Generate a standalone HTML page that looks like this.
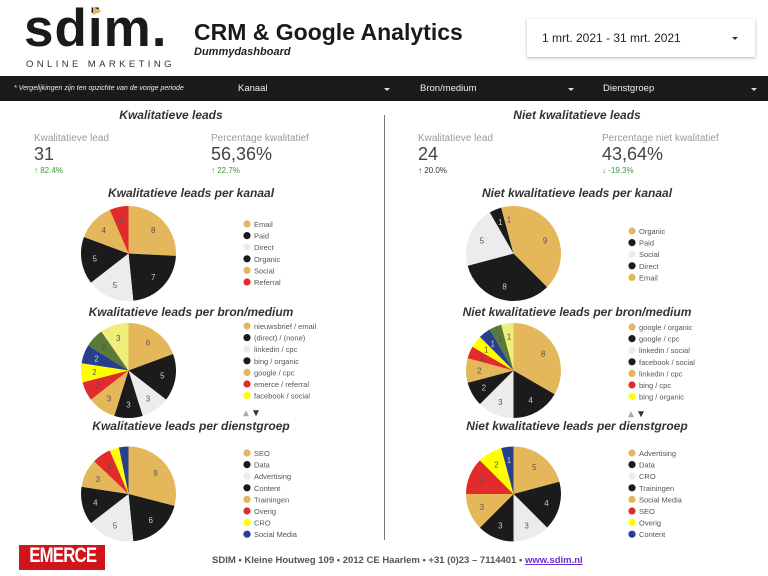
<!DOCTYPE html>
<html><head><meta charset="utf-8"><style>
body{margin:0;width:768px;height:576px;background:#fff;overflow:hidden;font-family:"Liberation Sans",sans-serif;position:relative}
.a{position:absolute;white-space:nowrap}
</style></head><body>
<div class="a" style="left:24px;top:-2px;font-size:53px;font-weight:bold;letter-spacing:1px;color:#1a1a1a">sdim.</div>
<div class="a" style="left:93px;top:7px;width:0;height:0;border-left:9px solid #e5b75b;border-top:4px solid transparent;border-bottom:4px solid transparent"></div>
<div class="a" style="left:26px;top:59px;font-size:9.5px;letter-spacing:3.4px;color:#333">ONLINE MARKETING</div>
<div class="a" style="left:194px;top:19px;font-size:23px;font-weight:bold;color:#1a1a1a">CRM &amp; Google Analytics</div>
<div class="a" style="left:194px;top:46px;font-size:11px;font-weight:bold;font-style:italic;color:#222">Dummydashboard</div>
<div class="a" style="left:527px;top:19px;width:228px;height:38px;box-shadow:0 1px 3px rgba(0,0,0,.3);background:#fff"></div>
<div class="a" style="left:542px;top:31px;font-size:12px;color:#222">1 mrt. 2021 - 31 mrt. 2021</div>
<div class="a" style="left:732px;top:37px;border-left:3px solid transparent;border-right:3px solid transparent;border-top:3px solid #333"></div>
<div class="a" style="left:0;top:76px;width:768px;height:25px;background:#1b1b1b"></div>
<div class="a" style="left:14px;top:85px;font-size:7px;font-style:italic;color:#eee">* Vergelijkingen zijn ten opzichte van de vorige periode</div>
<div class="a" style="left:238px;top:83px;font-size:9.5px;color:#eee">Kanaal</div>
<div class="a" style="left:420px;top:83px;font-size:9.5px;color:#eee">Bron/medium</div>
<div class="a" style="left:603px;top:83px;font-size:9.5px;color:#eee">Dienstgroep</div>
<div class="a" style="left:384px;top:88px;border-left:3px solid transparent;border-right:3px solid transparent;border-top:3px solid #ddd"></div>
<div class="a" style="left:568px;top:88px;border-left:3px solid transparent;border-right:3px solid transparent;border-top:3px solid #ddd"></div>
<div class="a" style="left:751px;top:88px;border-left:3px solid transparent;border-right:3px solid transparent;border-top:3px solid #ddd"></div>
<div class="a" style="left:384px;top:115px;width:1px;height:425px;background:#777"></div>
<svg id="s" class="a" style="left:0;top:0" width="768" height="576"></svg>
<div class="a" style="left:19px;top:545px;width:86px;height:25px;background:#d0141c"></div>
<div class="a" style="left:21px;top:544px;width:82px;text-align:center;font-size:21px;font-weight:bold;color:#fff;transform:scaleX(0.8);letter-spacing:-1px">EMERCE</div>
<div class="a" style="left:212px;top:555px;font-size:9.5px;font-weight:bold;color:#555">SDIM • Kleine Houtweg 109 • 2012 CE Haarlem • +31 (0)23 – 7114401 • <span style="color:#6a2fd0;text-decoration:underline">www.sdim.nl</span></div>
<script>
const G='#e5b75b',B='#1b1b1b',L='#ececec',R='#e22b2b',Y='#ffff00',U='#263f8f',N='#5a7a3a',LY='#f0ee7a';
let h='';
function t(x,y,s,o){h+=`<text x="${x}" y="${y}" ${o||''}>${s}</text>`;}
const TS='font-size="12" font-weight="bold" font-style="italic" fill="#333" text-anchor="middle"';
t(171,119,'Kwalitatieve leads',TS);t(577,119,'Niet kwalitatieve leads',TS);
t(191,197,'Kwalitatieve leads per kanaal',TS);t(577,197,'Niet kwalitatieve leads per kanaal',TS);
t(191,316,'Kwalitatieve leads per bron/medium',TS);t(577,316,'Niet kwalitatieve leads per bron/medium',TS);
t(191,430,'Kwalitatieve leads per dienstgroep',TS);t(577,430,'Niet kwalitatieve leads per dienstgroep',TS);
function kpi(x,l,v,d,c,up){t(x,141,l,'font-size="10" fill="#999"');t(x,160,v,'font-size="18" fill="#444"');t(x,173,(up?'↑ ':'↓ ')+d,`font-size="8" fill="${c}"`);}
kpi(34,'Kwalitatieve lead','31','82.4%','#3a9a3a',1);kpi(211,'Percentage kwalitatief','56,36%','22.7%','#3a9a3a',1);
kpi(418,'Kwalitatieve lead','24','20.0%','#333',1);kpi(602,'Percentage niet kwalitatief','43,64%','-19.3%','#3a9a3a',0);
function pie(cx,cy,r,d){let tot=d.reduce((a,b)=>a+b[0],0),a=0;for(const [v,c] of d){let a0=a/tot*2*Math.PI,a1=(a+v)/tot*2*Math.PI;a+=v;
let x0=cx+r*Math.sin(a0),y0=cy-r*Math.cos(a0),x1=cx+r*Math.sin(a1),y1=cy-r*Math.cos(a1);
h+=`<path d="M${cx},${cy}L${x0},${y0}A${r},${r} 0 ${a1-a0>Math.PI?1:0} 1 ${x1},${y1}Z" fill="${c}"/>`;
let m=(a0+a1)/2,lc=(c==B||c==U)?'#ccc':'#555';if(v/tot>0.035)t(cx+r*.72*Math.sin(m),cy-r*.72*Math.cos(m)+3,v,`font-size="8" text-anchor="middle" fill="${lc}"`);}}
function leg(x,y,items,arrows){items.forEach((it,i)=>{h+=`<circle cx="${x}" cy="${y+i*11.6}" r="3.6" fill="${it[1]}"/>`;t(x+7,y+i*11.6+3,it[0],'font-size="7.5" fill="#555"');});
if(arrows){let yy=y+items.length*11.6+6;h+=`<path d="M${x-4},${yy+3}l3,-6l3,6z" fill="#aaa"/><path d="M${x+6},${yy-3}l6,0l-3,6z" fill="#333"/>`;}}
pie(128.5,253.5,47.5,[[8,G],[7,B],[5,L],[5,B],[4,G],[2,R]]);
leg(247,224,[['Email',G],['Paid',B],['Direct',L],['Organic',B],['Social',G],['Referral',R]]);
pie(128.5,370.5,47.5,[[6,G],[5,B],[3,L],[3,B],[3,G],[2,R],[2,Y],[2,U],[2,N],[3,LY]]);
leg(247,326,[['nieuwsbrief / email',G],['(direct) / (none)',B],['linkedin / cpc',L],['bing / organic',B],['google / cpc',G],['emerce / referral',R],['facebook / social',Y]],1);
pie(128.5,494,47.5,[[9,G],[6,B],[5,L],[4,B],[3,G],[2,R],[1,Y],[1,U]]);
leg(247,453,[['SEO',G],['Data',B],['Advertising',L],['Content',B],['Trainingen',G],['Overig',R],['CRO',Y],['Social Media',U]]);
pie(513.5,253.5,47.5,[[9,G],[8,B],[5,L],[1,B],[1,G]]);
leg(632,231,[['Organic',G],['Paid',B],['Social',L],['Direct',B],['Email',G]]);
pie(513.5,370.5,47.5,[[8,G],[4,B],[3,L],[2,B],[2,G],[1,R],[1,Y],[1,U],[1,N],[1,LY]]);
leg(632,327,[['google / organic',G],['google / cpc',B],['linkedin / social',L],['facebook / social',B],['linkedin / cpc',G],['bing / cpc',R],['bing / organic',Y]],1);
pie(513.5,494,47.5,[[5,G],[4,B],[3,L],[3,B],[3,G],[3,R],[2,Y],[1,U]]);
leg(632,453,[['Advertising',G],['Data',B],['CRO',L],['Trainingen',B],['Social Media',G],['SEO',R],['Overig',Y],['Content',U]]);
document.getElementById('s').innerHTML=h;
</script>
</body></html>
